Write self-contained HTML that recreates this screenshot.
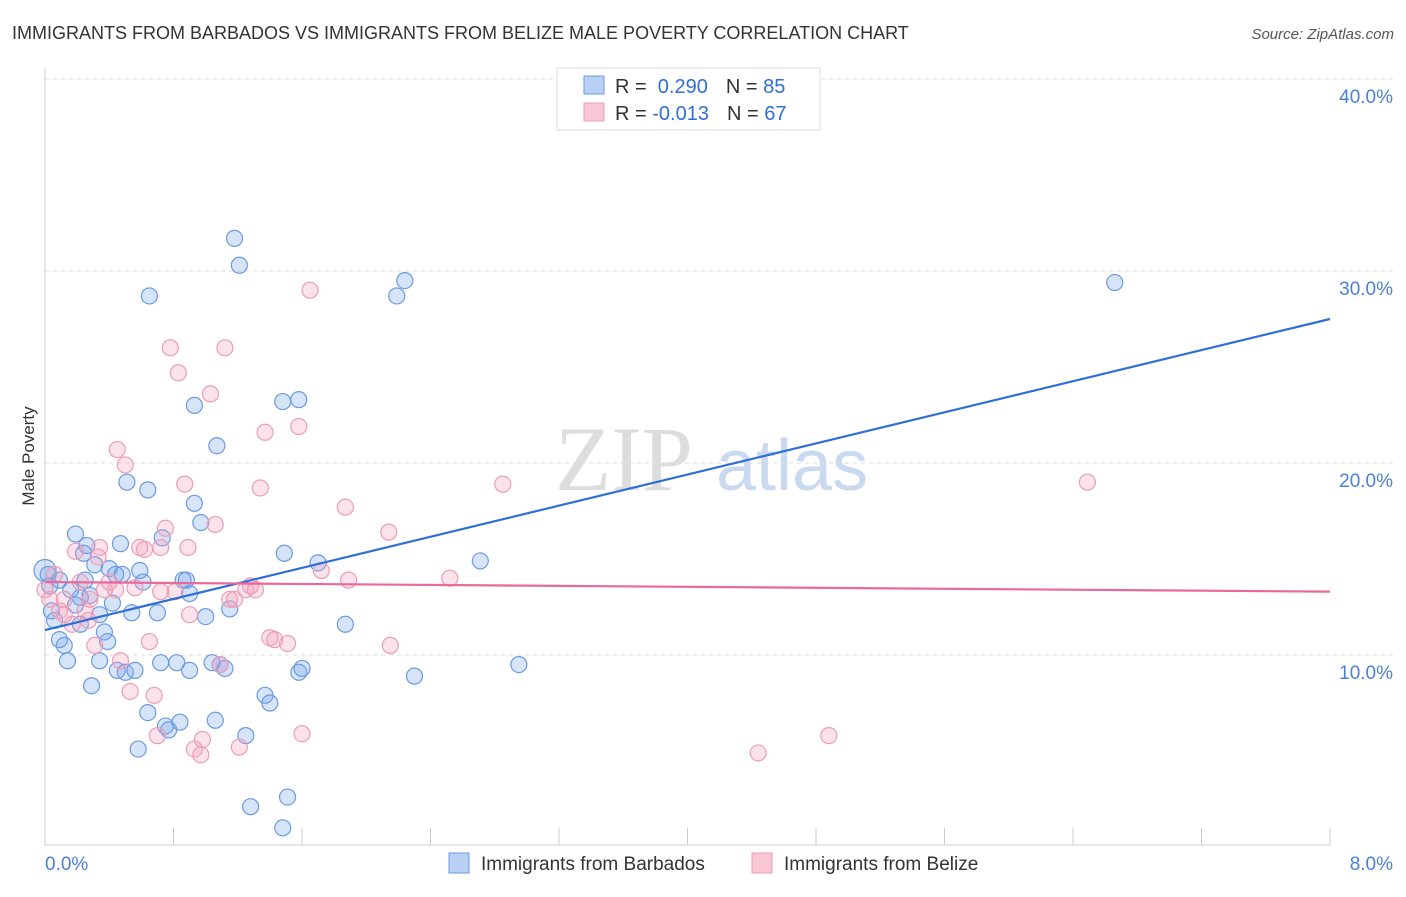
<!DOCTYPE html>
<html><head><meta charset="utf-8"><style>
body{margin:0;background:#fff;font-family:"Liberation Sans",sans-serif;}
</style></head><body>
<svg id="c" width="1406" height="892" xmlns="http://www.w3.org/2000/svg" font-family="Liberation Sans, sans-serif">
<text x="12" y="39" font-size="18" fill="#333">IMMIGRANTS FROM BARBADOS VS IMMIGRANTS FROM BELIZE MALE POVERTY CORRELATION CHART</text>
<text x="1394" y="39" font-size="15" fill="#555" text-anchor="end" font-style="italic">Source: ZipAtlas.com</text>
<text transform="translate(34,456) rotate(-90)" font-size="17" fill="#333" text-anchor="middle">Male Poverty</text>
<text x="555" y="490" font-size="92" fill="#ddd" font-family="Liberation Serif, serif">ZIP</text>
<text x="716" y="490" font-size="72" fill="#c9daf0">atlas</text>
<g id="grid"></g><g id="pts"></g><g id="lines"></g>
<g>
<rect x="557" y="68" width="263" height="62" fill="#fff" stroke="#ddd"/>
<rect x="584" y="76" width="20" height="18" fill="#b8d0f4" stroke="#6b9ae0"/>
<rect x="584" y="103" width="20" height="18" fill="#f9c6d6" stroke="#ea9db7"/>
<text x="615" y="93" font-size="20" fill="#333">R = <tspan fill="#2f6fd6">&#160;0.290</tspan><tspan dx="18">N = </tspan><tspan fill="#2f6fd6">85</tspan></text>
<text x="615" y="120" font-size="20" fill="#333">R = <tspan fill="#2f6fd6">-0.013</tspan><tspan dx="18">N = </tspan><tspan fill="#2f6fd6">67</tspan></text>
</g>
<g>
<rect x="449" y="853" width="20" height="20" fill="#b8d0f4" stroke="#6b9ae0"/>
<text x="481" y="870" font-size="19" fill="#333">Immigrants from Barbados</text>
<rect x="752" y="853" width="20" height="20" fill="#f9c6d6" stroke="#ea9db7"/>
<text x="784" y="870" font-size="19" fill="#333">Immigrants from Belize</text>
</g>
</svg>
<script>
const xTicks=[0,0.8,1.6,2.4,3.2,4.0,4.8,5.6,6.4,7.2,8.0];
const yTicks=[10,20,30,40];
const blueX=[0,.03,.06,.09,.12,.14,.19,.22,.24,.26,.29,.31,.34,.34,.37,.39,.40,.44,.45,.47,.48,.50,.51,.54,.56,.58,.59,.61,.64,.64,.65,.70,.72,.73,.75,.77,.82,.84,.86,.88,.90,.90,.93,.93,.97,1.00,1.04,1.06,1.07,1.09,1.12,1.15,1.18,1.21,1.25,1.28,1.37,1.40,1.48,1.49,1.51,1.48,1.58,1.58,1.60,1.70,1.87,2.19,2.24,2.30,2.71,2.95,6.66,.09,.16,.19,.25,.28,.42,.22,.04,.02];
const blueY=[14.4,13.6,11.8,10.8,10.5,9.7,16.3,13.0,15.3,15.7,8.4,14.7,12.1,9.7,11.2,10.7,14.5,14.2,9.2,15.8,14.2,9.1,19.0,12.2,9.2,5.1,14.4,13.8,18.6,7.0,28.7,12.2,9.6,16.1,6.3,6.1,9.6,6.5,13.9,13.9,13.2,9.2,23.0,17.9,16.9,12.0,9.6,6.6,20.9,9.5,9.3,12.4,31.7,30.3,5.8,2.1,7.9,7.5,23.2,15.3,2.6,1.0,23.3,9.1,9.3,14.8,11.6,28.7,29.5,8.9,14.9,9.5,29.4,13.9,13.4,12.6,13.9,13.1,12.7,11.6,12.3,14.2];
const pinkX=[0,.03,.06,.09,.12,.17,.19,.22,.25,.27,.31,.33,.34,.37,.40,.44,.45,.47,.50,.53,.56,.59,.62,.65,.68,.70,.72,.75,.78,.81,.83,.87,.89,.90,.93,.97,.98,1.03,1.06,1.09,1.12,1.15,1.18,1.21,1.25,1.28,1.31,1.34,1.37,1.40,1.43,1.51,1.58,1.60,1.65,1.72,1.87,1.89,2.14,2.15,2.52,2.85,4.44,4.88,6.49,.12,.28,.72];
const pinkY=[13.4,12.9,14.2,12.3,12.9,11.6,15.4,13.8,12.3,11.8,10.5,15.1,15.6,13.4,13.8,13.4,20.7,9.7,19.9,8.1,13.5,15.6,15.5,10.7,7.9,5.8,13.3,16.6,26.0,13.3,24.7,18.9,15.6,12.1,5.1,4.8,5.6,23.6,16.8,9.5,26.0,12.9,12.9,5.2,13.4,13.6,13.4,18.7,21.6,10.9,10.8,10.6,21.9,5.9,29.0,14.4,17.7,13.9,16.4,10.5,14.0,18.9,4.9,5.8,19.0,12.1,12.9,15.6];
const blueTrend=[11.3,27.5];
const pinkTrend=[13.8,13.3];
const NS='http://www.w3.org/2000/svg';
const sx=v=>45+v/8*1285, sy=v=>847-v*19.2;
function mk(t,a,p){const e=document.createElementNS(NS,t);for(const k in a)e.setAttribute(k,a[k]);p.appendChild(e);return e;}
const g=document.getElementById('grid');
yTicks.forEach(t=>{
 const l=mk('line',{x1:45,x2:1394,y1:sy(t),y2:sy(t),stroke:'#ddd','stroke-dasharray':'4,4'},g);
 
 
 const tx=mk('text',{x:1393,y:sy(t)+24,'font-size':19,fill:'#4a7fd6','text-anchor':'end'},g);
 tx.textContent=t.toFixed(1)+'%';
 
 
});
const ax=mk('line',{x1:45,x2:1330,y1:845,y2:845,stroke:'#ccc'},g);


const ay=mk('line',{x1:45,x2:45,y1:68,y2:845,stroke:'#ccc'},g);


xTicks.forEach(t=>{
 const l=mk('line',{x1:sx(t),x2:sx(t),y1:828,y2:845,stroke:'#ccc'},g);
 
 
});
[[0,'start',45],[8,'end',1393]].forEach(([v,a,x])=>{
 const tx=mk('text',{x:x,y:870,'font-size':19,fill:'#4a7fd6','text-anchor':a},g);
 tx.textContent=v.toFixed(1)+'%';
 
 
});
const p=document.getElementById('pts');
blueX.forEach((x,i)=>{
 const c=mk('circle',{cx:sx(x),cy:sy(blueY[i]),r:i==0?11:8,fill:'rgba(120,165,235,0.3)',stroke:'#6b9ae0','stroke-width':1.2},p);
 
 
});
pinkX.forEach((x,i)=>{
 const c=mk('circle',{cx:sx(x),cy:sy(pinkY[i]),r:8,fill:'rgba(245,160,190,0.3)',stroke:'#ea9db7','stroke-width':1.2},p);
 
 
});
const L=document.getElementById('lines');
const bl=mk('line',{x1:sx(0),x2:sx(8),y1:sy(blueTrend[0]),y2:sy(blueTrend[1]),stroke:'#2f6fd6','stroke-width':2.2},L);


const pl=mk('line',{x1:sx(0),x2:sx(8),y1:sy(pinkTrend[0]),y2:sy(pinkTrend[1]),stroke:'#e8699a','stroke-width':2.2},L);


</script>
</body></html>
